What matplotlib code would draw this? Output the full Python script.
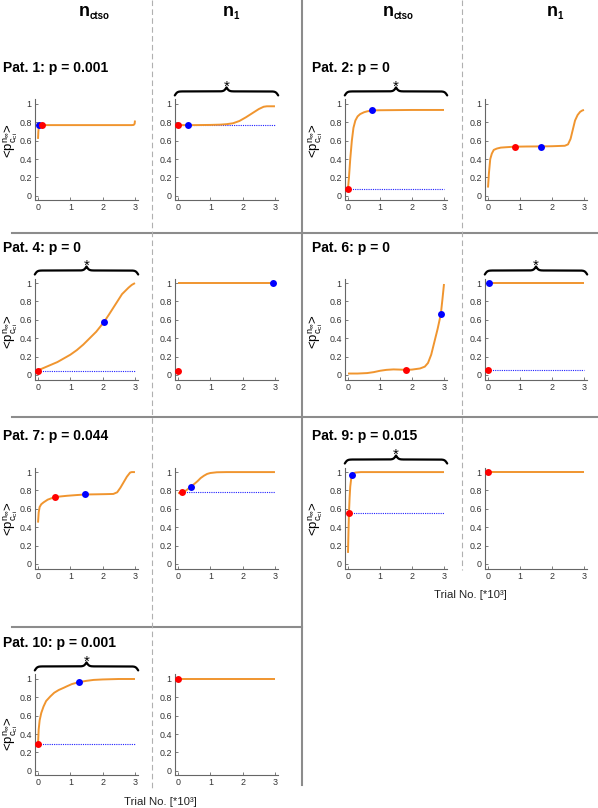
import numpy as np
import matplotlib
matplotlib.use('Agg')
import matplotlib.pyplot as plt
from matplotlib.lines import Line2D

plt.rcParams['font.family'] = ['Liberation Sans', 'DejaVu Sans']
plt.rcParams['mathtext.default'] = 'regular'

# ---------------- data ----------------
patient_labels = ['Pat. 1', 'Pat. 2', 'Pat. 4', 'Pat. 6', 'Pat. 7', 'Pat. 9', 'Pat. 10']
p_values = ['0.001', '0', '0', '0', '0.044', '0.015', '0.001']
x_ticks = [0, 1, 2, 3]
y_ticks = [0, 0.2, 0.4, 0.6, 0.8, 1]
y_tick_labels = ['0', '0.2', '0.4', '0.6', '0.8', '1']

# Pat. 1
p1_ctso_x = [0, 0.01, 0.03, 0.1, 1.0, 2.0, 2.9, 2.96, 2.99, 3.0]
p1_ctso_y = [0.62, 0.70, 0.77, 0.77, 0.77, 0.77, 0.77, 0.772, 0.785, 0.82]
p1_ctso_red = (0.11, 0.77)
p1_ctso_blue = (0.03, 0.77)
p1_n1_x = [0, 0.5, 1.0, 1.3, 1.5, 1.7, 1.9, 2.1, 2.3, 2.5, 2.65, 2.75, 3.0]
p1_n1_y = [0.77, 0.77, 0.772, 0.775, 0.78, 0.79, 0.815, 0.855, 0.90, 0.945, 0.97, 0.975, 0.975]
p1_n1_red = (0.0, 0.77)
p1_n1_blue = (0.32, 0.77)

# Pat. 2
p2_ctso_x = [0, 0.03, 0.07, 0.12, 0.17, 0.23, 0.3, 0.38, 0.5, 0.6, 0.76, 1.0, 2.0, 3.0]
p2_ctso_y = [0.08, 0.2, 0.4, 0.6, 0.74, 0.82, 0.865, 0.89, 0.91, 0.92, 0.93, 0.932, 0.935, 0.935]
p2_ctso_red = (0.0, 0.076)
p2_ctso_blue = (0.76, 0.93)
p2_n1_x = [0, 0.03, 0.07, 0.12, 0.18, 0.28, 0.4, 0.6, 0.83, 1.2, 1.65, 2.0, 2.4, 2.5, 2.58,
           2.65, 2.72, 2.8, 2.88, 2.95, 3.0]
p2_n1_y = [0.09, 0.25, 0.4, 0.46, 0.5, 0.515, 0.525, 0.53, 0.535, 0.537, 0.538, 0.54, 0.545,
           0.56, 0.62, 0.72, 0.82, 0.88, 0.915, 0.93, 0.935]
p2_n1_red = (0.83, 0.535)
p2_n1_blue = (1.65, 0.535)

# Pat. 4
p4_ctso_x = [0, 0.2, 0.4, 0.6, 0.8, 1.0, 1.2, 1.4, 1.6, 1.8, 2.05, 2.2, 2.4, 2.6, 2.8, 2.9, 3.0]
p4_ctso_y = [0.05, 0.08, 0.11, 0.14, 0.18, 0.22, 0.27, 0.33, 0.40, 0.47, 0.58, 0.66, 0.77,
             0.88, 0.95, 0.98, 1.0]
p4_ctso_red = (0.0, 0.04)
p4_ctso_blue = (2.05, 0.58)
p4_n1_x = [0, 2.93]
p4_n1_y = [1.0, 1.0]
p4_n1_red = (0.0, 0.04)
p4_n1_blue = (2.93, 1.0)

# Pat. 6
p6_ctso_x = [0, 0.3, 0.6, 0.8, 1.0, 1.2, 1.42, 1.6, 1.82, 2.0, 2.25, 2.4, 2.5, 2.6, 2.7, 2.8,
             2.9, 2.95, 3.0]
p6_ctso_y = [0.015, 0.015, 0.02, 0.03, 0.045, 0.055, 0.06, 0.058, 0.055, 0.058, 0.07, 0.09,
             0.13, 0.22, 0.36, 0.5, 0.66, 0.82, 0.99]
p6_ctso_red = (1.82, 0.055)
p6_ctso_blue = (2.9, 0.66)
p6_n1_x = [0, 3.0]
p6_n1_y = [1.0, 1.0]
p6_n1_red = (0.0, 0.05)
p6_n1_blue = (0.02, 1.0)

# Pat. 7
p7_ctso_x = [0, 0.02, 0.05, 0.1, 0.17, 0.3, 0.51, 0.7, 0.9, 1.2, 1.46, 1.8, 2.1, 2.33, 2.45,
             2.55, 2.65, 2.75, 2.85, 2.9, 3.0]
p7_ctso_y = [0.45, 0.56, 0.62, 0.65, 0.67, 0.70, 0.727, 0.735, 0.742, 0.75, 0.756, 0.758,
             0.76, 0.762, 0.78, 0.83, 0.89, 0.95, 0.995, 1.0, 1.0]
p7_ctso_red = (0.51, 0.727)
p7_ctso_blue = (1.46, 0.756)
p7_n1_x = [0, 0.13, 0.25, 0.39, 0.5, 0.6, 0.7, 0.8, 0.9, 1.0, 1.2, 1.5, 2.0, 3.0]
p7_n1_y = [0.77, 0.78, 0.80, 0.84, 0.87, 0.90, 0.935, 0.96, 0.98, 0.99, 0.998, 1.0, 1.0, 1.0]
p7_n1_red = (0.13, 0.78)
p7_n1_blue = (0.39, 0.84)

# Pat. 9
p9_ctso_x = [0, 0.015, 0.03, 0.05, 0.07, 0.1, 0.12, 0.16, 0.23, 0.4, 1.0, 3.0]
p9_ctso_y = [0.12, 0.35, 0.556, 0.72, 0.84, 0.93, 0.96, 0.985, 0.995, 1.0, 1.0, 1.0]
p9_ctso_red = (0.03, 0.556)
p9_ctso_blue = (0.12, 0.964)
p9_n1_x = [0, 3.0]
p9_n1_y = [1.0, 1.0]
p9_n1_red = (0.0, 1.0)
p9_n1_blue = None

# Pat. 10
p10_ctso_x = [0, 0.02, 0.05, 0.1, 0.17, 0.25, 0.38, 0.5, 0.64, 0.8, 0.89, 1.05, 1.26, 1.5,
              1.72, 2.0, 2.5, 3.0]
p10_ctso_y = [0.29, 0.45, 0.55, 0.63, 0.70, 0.76, 0.81, 0.85, 0.88, 0.905, 0.92, 0.945,
              0.965, 0.98, 0.99, 0.995, 1.0, 1.0]
p10_ctso_red = (0.0, 0.29)
p10_ctso_blue = (1.26, 0.965)
p10_n1_x = [0, 3.0]
p10_n1_y = [1.0, 1.0]
p10_n1_red = (0.0, 1.0)
p10_n1_blue = None

# significance braces and reference (dotted) lines: (ctso, n1)
brace_flags = [(False, True), (True, False), (True, False), (False, True),
               (False, False), (True, False), (True, False)]
dotted_flags = [(False, True), (True, False), (True, False), (False, True),
                (False, True), (True, False), (True, False)]

panels = [
    ((p1_ctso_x, p1_ctso_y, p1_ctso_red, p1_ctso_blue), (p1_n1_x, p1_n1_y, p1_n1_red, p1_n1_blue)),
    ((p2_ctso_x, p2_ctso_y, p2_ctso_red, p2_ctso_blue), (p2_n1_x, p2_n1_y, p2_n1_red, p2_n1_blue)),
    ((p4_ctso_x, p4_ctso_y, p4_ctso_red, p4_ctso_blue), (p4_n1_x, p4_n1_y, p4_n1_red, p4_n1_blue)),
    ((p6_ctso_x, p6_ctso_y, p6_ctso_red, p6_ctso_blue), (p6_n1_x, p6_n1_y, p6_n1_red, p6_n1_blue)),
    ((p7_ctso_x, p7_ctso_y, p7_ctso_red, p7_ctso_blue), (p7_n1_x, p7_n1_y, p7_n1_red, p7_n1_blue)),
    ((p9_ctso_x, p9_ctso_y, p9_ctso_red, p9_ctso_blue), (p9_n1_x, p9_n1_y, p9_n1_red, p9_n1_blue)),
    ((p10_ctso_x, p10_ctso_y, p10_ctso_red, p10_ctso_blue), (p10_n1_x, p10_n1_y, p10_n1_red, p10_n1_blue)),
]
# layout: (row, half) for each patient
grid_pos = [(0, 0), (0, 1), (1, 0), (1, 1), (2, 0), (2, 1), (3, 0)]

# ---------------- layout (pixels) ----------------
W, H = 598, 808
fig = plt.figure(figsize=(W / 100, H / 100), dpi=100)

col_left = [34.8, 174.8, 344.8, 484.8]
col_w = [103.4, 103.4, 102.4, 102.4]
row_top = [99.4, 278.5, 467.5, 674.4]
row_h = 101
title_y = [68, 248, 436, 643]
ylabel_y = [141, 332, 519, 734]

ORANGE = '#F0952F'
GRAY = '#8c8c8c'


def fx(x):
    return np.asarray(x) / W


def fy(y):
    return 1 - np.asarray(y) / H


def fig_line(xs, ys, **kw):
    fig.add_artist(Line2D(fx(xs), fy(ys), transform=fig.transFigure, **kw))


def brace(x0, x1, yb):
    xs = np.linspace(x0, x1, 401)
    half = xs[:201]
    beta = 0.8
    yh = 1 / (1 + np.exp(-beta * (half - half[0]))) + 1 / (1 + np.exp(-beta * (half - half[-1])))
    yy = np.concatenate([yh, yh[-2::-1]])
    ypx = yb - (yy - 1) * 8
    fig_line(xs, ypx, color='k', lw=1.6, solid_capstyle='round')
    fig.text(fx((x0 + x1) / 2), fy(yb - 0.5), '*', ha='center', va='baseline', fontsize=11)


def style_axes(ax):
    ax.set_xlim(-0.1, 3.1)
    ax.set_ylim(-0.05, 1.05)
    ax.set_xticks(x_ticks)
    ax.set_xticklabels([str(t) for t in x_ticks])
    ax.set_yticks(y_ticks)
    ax.set_yticklabels(y_tick_labels)
    for s in ['top', 'right']:
        ax.spines[s].set_visible(False)
    for s in ['left', 'bottom']:
        ax.spines[s].set_color('#666666')
        ax.spines[s].set_linewidth(0.8)
    ax.tick_params(direction='in', length=2, width=0.6, labelsize=6.4, colors='#666666',
                   labelcolor='#333333', pad=2.2)
    ax.patch.set_alpha(0)


for i, (pair, (row, half)) in enumerate(zip(panels, grid_pos)):
    for j, (x, y, red, blue) in enumerate(pair):
        c = half * 2 + j
        ax = fig.add_axes([col_left[c] / W, 1 - (row_top[row] + row_h) / H, col_w[c] / W, row_h / H])
        style_axes(ax)
        ax.plot(x, y, color=ORANGE, lw=1.4, solid_capstyle='butt', zorder=3)
        if dotted_flags[i][j]:
            ax.plot([red[0], 3], [red[1], red[1]], linestyle=(0, (1, 1)), color='#2020ff', lw=0.8, zorder=2)
        if blue is not None:
            ax.plot([blue[0]], [blue[1]], 'o', color='#0000ff', ms=5, mec='none', zorder=4, clip_on=False)
        ax.plot([red[0]], [red[1]], 'o', color='#ff0000', ms=5, mec='none', zorder=5, clip_on=False)
        if brace_flags[i][j]:
            brace(col_left[c], col_left[c] + col_w[c], row_top[row] - 8)
    # title
    tx = 3 if half == 0 else 312
    fig.text(fx(tx), fy(title_y[row]), f'{patient_labels[i]}: p = {p_values[i]}', ha='left',
             va='center', fontsize=10, fontweight='bold')
    # y label
    lx = 10.5 if half == 0 else 316
    fig.text(fx(lx), fy(ylabel_y[row]), r'<p$^{n_{\infty}}_{c_{ci}}$>', rotation=90,
             ha='center', va='center', fontsize=9.5)

# column headers
for nx in [79, 383]:
    fig.text(fx(nx), fy(16), 'n', fontsize=13, fontweight='bold', ha='left', va='baseline')
    fig.text(fx(nx + 10.5), fy(19), 'ctso', fontsize=7, fontweight='bold', ha='left', va='baseline')
for nx in [223, 547]:
    fig.text(fx(nx), fy(16), 'n', fontsize=13, fontweight='bold', ha='left', va='baseline')
    fig.text(fx(nx + 10.5), fy(19), '1', fontsize=7, fontweight='bold', ha='left', va='baseline')

# x labels
fig.text(fx(470), fy(595), 'Trial No. [*10\u00b3]', ha='center', va='center', fontsize=8.2, color='#222222')
fig.text(fx(160), fy(802), 'Trial No. [*10\u00b3]', ha='center', va='center', fontsize=8.2, color='#222222')

# separator lines
fig_line([302, 302], [0, 785], color=GRAY, lw=1.5)
fig_line([12, 598], [233, 233], color=GRAY, lw=1.5)
fig_line([12, 598], [417, 417], color=GRAY, lw=1.5)
fig_line([12, 302], [627, 627], color=GRAY, lw=1.5)
fig_line([152, 152], [0, 790], color='#b0b0b0', lw=0.8, linestyle=(0, (5, 3)))
fig_line([462, 462], [0, 570], color='#b0b0b0', lw=0.8, linestyle=(0, (5, 3)))

fig.savefig('out.png', dpi=100)
